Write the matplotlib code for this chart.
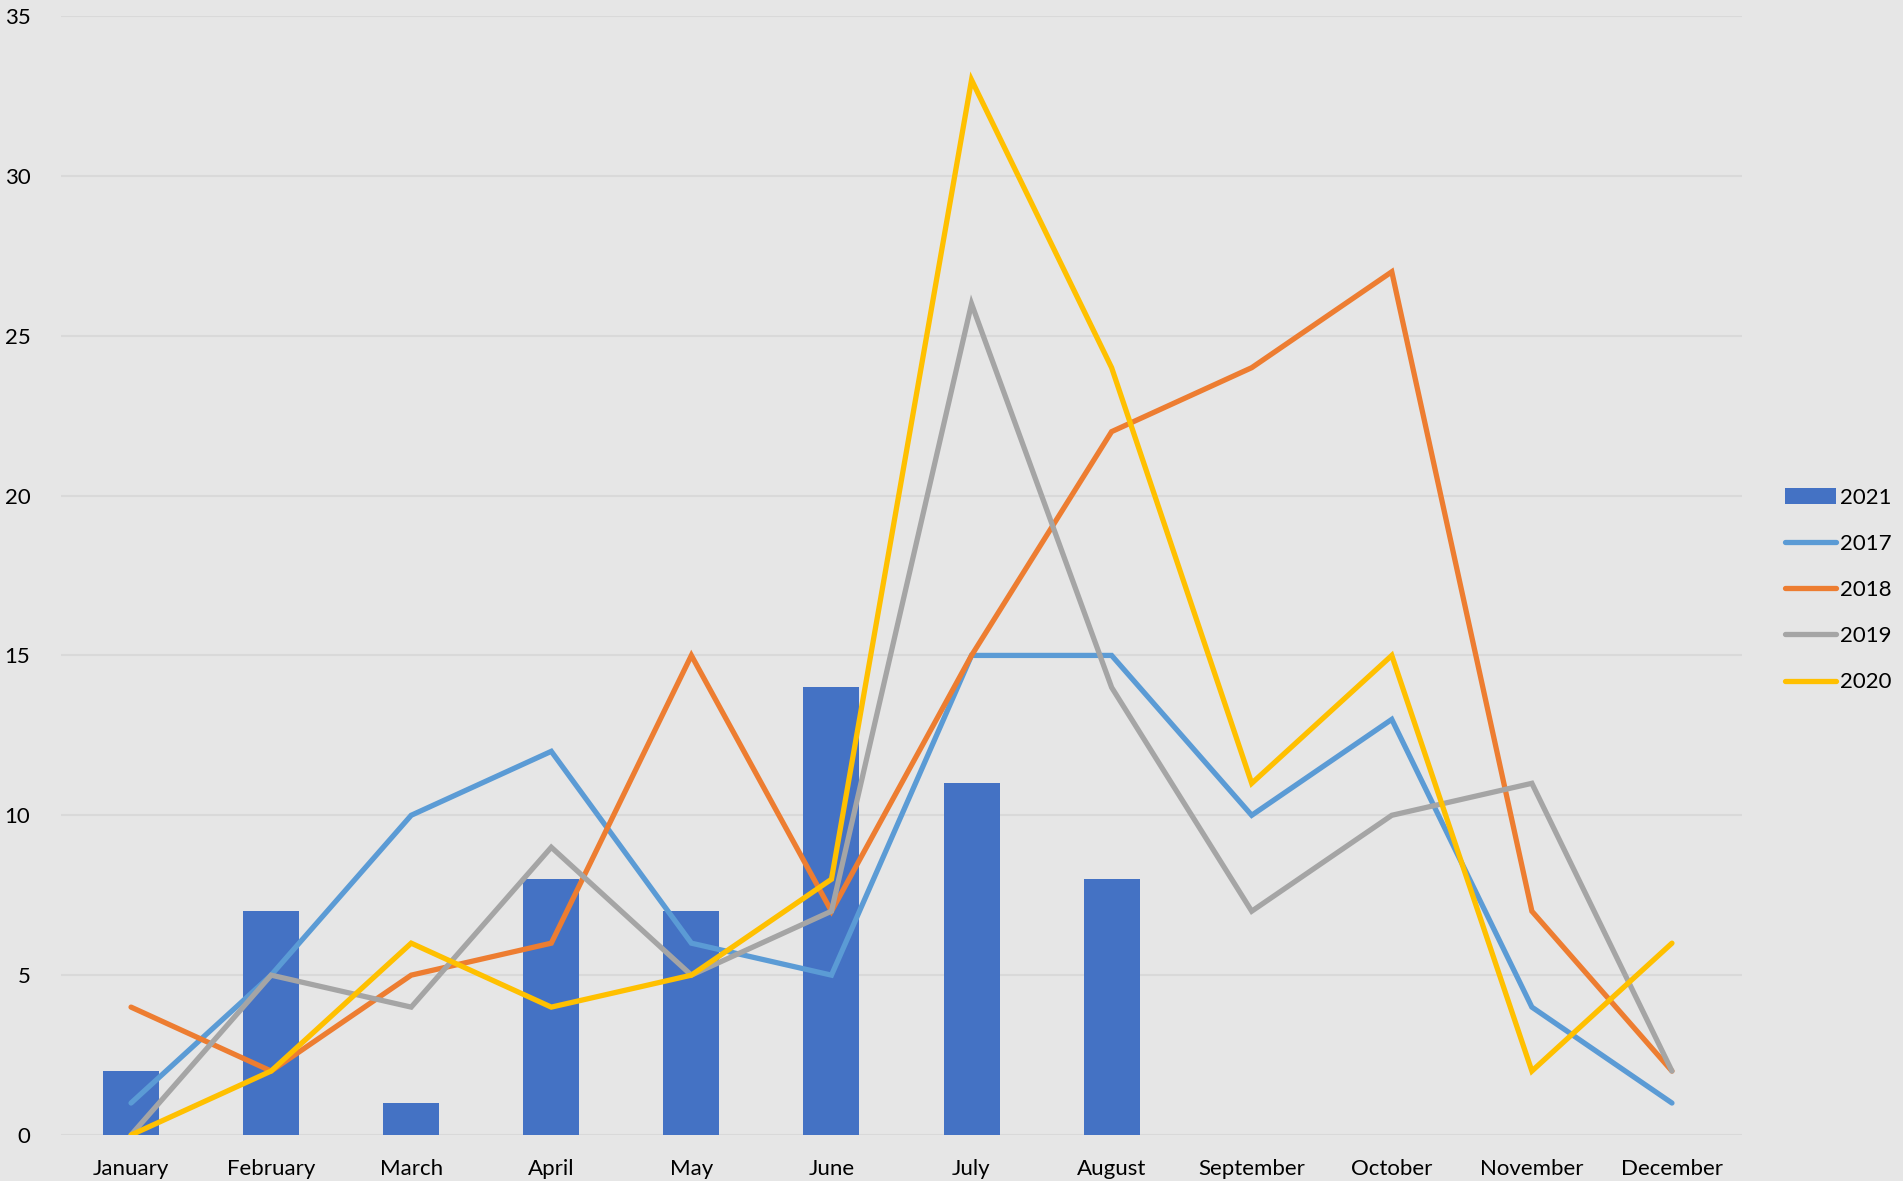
import matplotlib
matplotlib.use("Agg")
import matplotlib.pyplot as plt
import numpy as np

months = ["January", "February", "March", "April", "May", "June", "July",
          "August", "September", "October", "November", "December"]
bars_2021 = [2, 7, 1, 8, 7, 14, 11, 8]
s2017 = [1, 5, 10, 12, 6, 5, 15, 15, 10, 13, 4, 1]
s2018 = [4, 2, 5, 6, 15, 7, 15, 22, 24, 27, 7, 2]
s2019 = [0, 5, 4, 9, 5, 7, 26, 14, 7, 10, 11, 2]
s2020 = [0, 2, 6, 4, 5, 8, 33, 24, 11, 15, 2, 6]
yticks = [0, 5, 10, 15, 20, 25, 30, 35]

plt.rcParams['font.family'] = ['Lato', 'DejaVu Sans']
bg = '#E6E6E6'
fig = plt.figure(figsize=(19.03, 11.81), dpi=100, facecolor=bg)
ax = fig.add_axes([61/1903, 1-1135/1181, (1742-61)/1903, (1135-16)/1181])
ax.set_facecolor(bg)

x = np.arange(len(months))
hb = ax.bar(x[:len(bars_2021)], bars_2021, width=0.4, color='#4472C4', label='2021', zorder=2)
lw = 3.8
kw = dict(lw=lw, zorder=3, solid_capstyle='round', solid_joinstyle='miter')
l1, = ax.plot(x, s2017, color='#5B9BD5', label='2017', **kw)
l2, = ax.plot(x, s2018, color='#ED7D31', label='2018', **kw)
l3, = ax.plot(x, s2019, color='#A5A5A5', label='2019', **kw)
l4, = ax.plot(x, s2020, color='#FFC000', label='2020', **kw)

ax.set_xlim(-0.5, len(months) - 0.5)
ax.set_ylim(0, 35)
ax.set_yticks(yticks)
ax.set_xticks(x)
ax.set_xticklabels(months)
ax.tick_params(axis='both', length=0, labelsize=16, colors='black')
ax.tick_params(axis='y', pad=22)
ax.tick_params(axis='x', pad=17)
ax.grid(axis='y', color='#D9D9D9', lw=1.5, zorder=0)
ax.set_axisbelow(True)
for s in ax.spines.values():
    s.set_visible(False)

leg = ax.legend([hb, l1, l2, l3, l4], ['2021', '2017', '2018', '2019', '2020'],
                loc='center left', bbox_to_anchor=(1776/1903, 1-590/1181),
                bbox_transform=fig.transFigure, frameon=False, fontsize=16,
                handlelength=2.3, handletextpad=0.2, labelspacing=1.18,
                borderaxespad=0)
plt.savefig('out.png', dpi=100, facecolor=bg)
